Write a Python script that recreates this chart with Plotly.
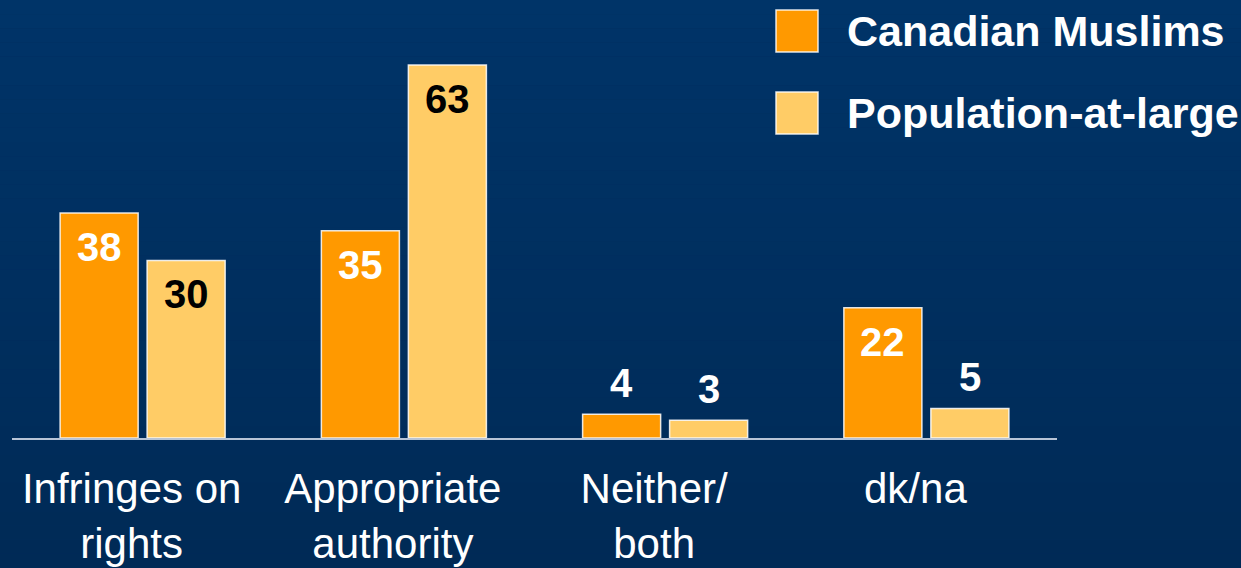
import plotly.graph_objects as go

# Survey responses (percent)
categories = ["Infringes on<br>rights", "Appropriate<br>authority", "Neither/<br>both", "dk/na"]
series_names = ["Canadian Muslims", "Population-at-large"]
muslims = [38, 35, 4, 22]
population = [30, 63, 3, 5]

COLORS = ["#FF9900", "#FFCC66"]
LABEL_COLORS_INSIDE = ["white", "black"]
FONT = "Arial, Liberation Sans, sans-serif"

W, H = 1241, 568
ML, MR, MT, MB = 12, 184, 0, 130
plot_w = W - ML - MR
plot_h = H - MT - MB
BARGAP = 0.334
GROUPGAP = 0.103
Y_MAX = 74

fig = go.Figure()

# Background: gentle vertical gradient in navy
n_strips = 40
top_rgb = (0, 52, 104)
bot_rgb = (0, 42, 86)
for i in range(n_strips):
    t = i / (n_strips - 1)
    c = tuple(round(top_rgb[k] + (bot_rgb[k] - top_rgb[k]) * t) for k in range(3))
    y1 = 1 - i / n_strips
    y0 = 1 - (i + 1) / n_strips
    fig.add_shape(type="rect", xref="paper", yref="paper",
                  x0=-ML / plot_w, x1=(W - ML) / plot_w,
                  y0=-MB / plot_h + y0 * H / plot_h, y1=-MB / plot_h + y1 * H / plot_h,
                  fillcolor="rgb(%d,%d,%d)" % c, line=dict(width=0), layer="below")

for name, vals, col in zip(series_names, [muslims, population], COLORS):
    fig.add_trace(go.Bar(
        x=categories, y=vals, name=name,
        marker=dict(color=col, line=dict(color="rgba(255,255,255,0.85)", width=1.5)),
        showlegend=False, hoverinfo="skip",
    ))

# Value labels: inside the top of tall bars, above short bars
cat_px = plot_w / len(categories)
slot_px = (1 - BARGAP) * cat_px / 2
for s, vals in enumerate([muslims, population]):
    xshift = (s - 0.5) * slot_px
    for cat, v in zip(categories, vals):
        inside = v >= 10
        fig.add_annotation(
            x=cat, y=v, xref="x", yref="y", text="<b>%d</b>" % v, showarrow=False,
            xanchor="center", yanchor="middle", xshift=xshift,
            yshift=-34 if inside else 31,
            font=dict(family=FONT, size=40, color=LABEL_COLORS_INSIDE[s] if inside else "white"),
        )

# Legend drawn as large swatches with bold labels
legend_rows_px = [31, 113]
for name, col, cy in zip(series_names, COLORS, legend_rows_px):
    fig.add_shape(type="rect", xref="paper", yref="paper",
                  x0=(776 - ML) / plot_w, x1=(818 - ML) / plot_w,
                  y0=(plot_h - (cy + 21)) / plot_h, y1=(plot_h - (cy - 21)) / plot_h,
                  fillcolor=col, line=dict(color="rgba(255,255,255,0.85)", width=1.5))
    fig.add_annotation(xref="paper", yref="paper",
                       x=(845 - ML) / plot_w, y=(plot_h - cy) / plot_h,
                       text="<b>%s</b>" % name, showarrow=False,
                       xanchor="left", yanchor="middle",
                       font=dict(family=FONT, size=43, color="white"))

fig.update_layout(
    width=W, height=H,
    margin=dict(l=ML, r=MR, t=MT, b=MB),
    paper_bgcolor="#002f5f", plot_bgcolor="rgba(0,0,0,0)",
    barmode="group", bargap=BARGAP, bargroupgap=GROUPGAP,
    font=dict(family=FONT, color="white"),
    xaxis=dict(showgrid=False, zeroline=False, showline=True,
               linecolor="#b8c4d6", linewidth=2, ticks="",
               tickfont=dict(family=FONT, size=42, color="white"),
               ticklabelshift=-11, ticklabelstandoff=13),
    yaxis=dict(range=[0, Y_MAX], visible=False, fixedrange=True),
)

fig.write_html("out.html")
